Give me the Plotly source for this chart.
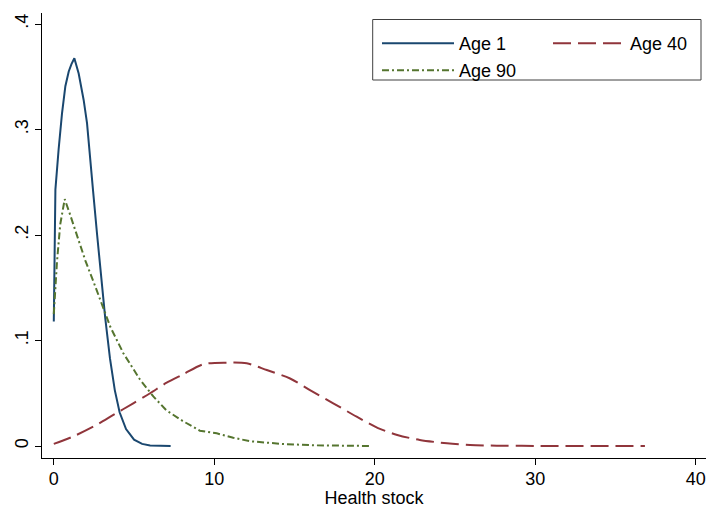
import plotly.graph_objects as go

# ---- data ----
age1_x = [0.0, 0.1, 0.3, 0.51, 0.72, 0.93, 1.1, 1.28, 1.55, 1.86, 2.07, 2.28, 2.44, 2.7, 2.94,
          3.2, 3.5, 3.8, 4.1, 4.5, 5.0, 5.5, 6.0, 7.28]
age1_y = [0.118, 0.243, 0.281, 0.315, 0.341, 0.355, 0.362, 0.3675, 0.353, 0.328, 0.306, 0.274, 0.243,
          0.200, 0.160, 0.122, 0.083, 0.053, 0.032, 0.016, 0.006, 0.002, 0.0005, 0.0]

age40_x = [0.0, 1.2, 2.46, 3.71, 4.95, 6.0, 7.03, 8.07, 9.31, 10.77, 12.02, 13.27, 14.72, 15.96,
           17.41, 18.87, 20.2, 21.4, 22.8, 24.5, 25.93, 27.6, 30.0, 36.83]
age40_y = [0.002, 0.009, 0.0183, 0.0294, 0.0405, 0.050, 0.060, 0.068, 0.0775, 0.079, 0.0784, 0.072,
           0.064, 0.053, 0.0405, 0.0278, 0.017, 0.0105, 0.0057, 0.0026, 0.001, 0.0003, 0.0001, 0.0]

age90_x = [0.0, 0.2, 0.4, 0.68, 1.0, 1.34, 1.96, 2.59, 3.21, 3.52, 4.33, 5.37, 6.2, 7.0, 8.0, 9.1,
           10.15, 11.18, 12.22, 14.3, 16.4, 19.8]
age90_y = [0.125, 0.175, 0.21, 0.234, 0.220, 0.205, 0.176, 0.151, 0.126, 0.113, 0.088, 0.063, 0.047,
           0.034, 0.024, 0.0145, 0.012, 0.0079, 0.0045, 0.0019, 0.0006, 0.0]

x_ticks = [0, 10, 20, 30, 40]
y_ticks = [0, 0.1, 0.2, 0.3, 0.4]
y_tick_text = ["0", ".1", ".2", ".3", ".4"]

FONT = "Liberation Sans, Arial, Helvetica, sans-serif"

fig = go.Figure()
fig.add_trace(go.Scatter(x=age1_x, y=age1_y, mode="lines", name="Age 1",
                         line=dict(color="#1a476f", width=2), legend="legend"))
fig.add_trace(go.Scatter(x=age40_x, y=age40_y, mode="lines", name="Age 40",
                         line=dict(color="#90353b", width=2, dash="18px,7px", shape="spline", smoothing=0.8),
                         legend="legend"))
fig.add_trace(go.Scatter(x=age90_x, y=age90_y, mode="lines", name="Age 90",
                         line=dict(color="#55752f", width=2, dash="7px,3px,2px,3px"), legend="legend2"))

W, H = 708, 508
ml, mr, mt, mb = 42, 2, 13, 50
PW, PH = W - ml - mr, H - mt - mb


def px_x(p):
    return (p - ml) / PW


def px_y(p):
    return (H - mb - p) / PH


legend_common = dict(
    xref="paper", yref="paper", xanchor="left", yanchor="top",
    orientation="h", font=dict(family=FONT, size=18, color="black"),
    bgcolor="rgba(0,0,0,0)", borderwidth=0, itemwidth=72,
    entrywidth=84, entrywidthmode="pixels", tracegroupgap=0,
)

fig.update_layout(
    width=W, height=H,
    margin=dict(l=ml, r=mr, t=mt, b=mb, pad=0, autoexpand=False),
    paper_bgcolor="white", plot_bgcolor="white",
    font=dict(family=FONT, size=18, color="black"),
    showlegend=True,
    legend=dict(x=px_x(377), y=px_y(25), **legend_common),
    legend2=dict(x=px_x(377), y=px_y(52), **legend_common),
    xaxis=dict(
        range=[(ml - 53.8) / 16.05, (W - mr - 53.8) / 16.05],
        tickvals=x_ticks, ticktext=[str(v) for v in x_ticks],
        showline=True, linecolor="black", linewidth=1,
        ticks="outside", ticklen=6, tickcolor="black", tickwidth=1,
        showgrid=False, zeroline=False, automargin=False,
        ticklabelstandoff=-2,
        tickfont=dict(family=FONT, size=18, color="black"),
        title=dict(text="Health stock", font=dict(family=FONT, size=18, color="black"), standoff=0),
    ),
    yaxis=dict(
        range=[-12 / 1055, 433 / 1055],
        tickvals=y_ticks, ticktext=y_tick_text, tickangle=-90,
        showline=True, linecolor="black", linewidth=1,
        ticks="outside", ticklen=6, tickcolor="black", tickwidth=1,
        showgrid=False, zeroline=False, automargin=False,
        tickfont=dict(family=FONT, size=18, color="black"),
    ),
    shapes=[dict(type="rect", xref="paper", yref="paper",
                 x0=px_x(372.7), x1=px_x(701),
                 y0=px_y(80), y1=px_y(19.5),
                 line=dict(color="#404040", width=1), fillcolor="rgba(0,0,0,0)", layer="above")],
)

fig.write_html("out.html")
